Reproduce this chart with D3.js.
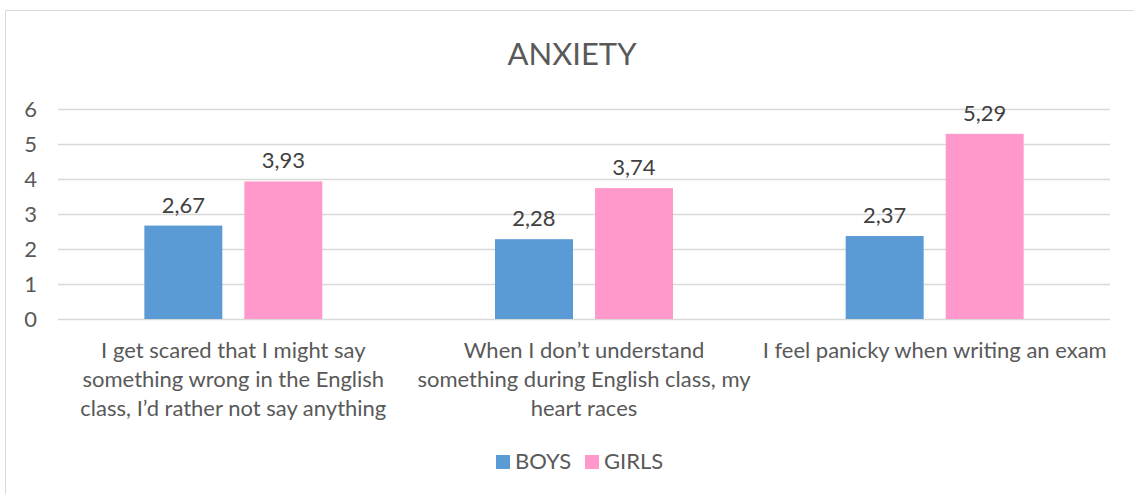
<!DOCTYPE html>
<html>
<head>
<meta charset="utf-8">
<script src="https://cdn.jsdelivr.net/npm/d3@7"></script>
<style>
  body { margin: 0; background: #fff; }
  svg { display: block; font-family: Lato, "Open Sans", sans-serif; }
</style>
</head>
<body>
<svg id="chart" width="1134" height="494"></svg>
<script>
var categories = [
  ["I get scared that I might say", "something wrong in the English", "class, I\u2019d rather not say anything"],
  ["When I don\u2019t understand", "something during English class, my", "heart races"],
  ["I feel panicky when writing an exam"]
];
var seriesNames = ["BOYS", "GIRLS"];
var boys = [2.67, 2.28, 2.37];
var girls = [3.93, 3.74, 5.29];
var yTicks = [0, 1, 2, 3, 4, 5, 6];
var colors = ["#5b9bd5", "#ff99cc"];

var svg = d3.select('#chart');

// chart frame (cropped on right / bottom)
svg.append('path')
  .attr('d', 'M5.5,494 V10.5 H1134')
  .attr('fill', 'none')
  .attr('stroke', '#d9d9d9');

svg.append('text')
  .attr('x', 572)
  .attr('y', 65)
  .attr('text-anchor', 'middle')
  .attr('fill', '#595959')
  .attr('font-size', 31)
  .text('ANXIETY');

var x0 = d3.scaleBand()
  .domain(d3.range(categories.length))
  .range([58, 1110]);

// 78px bars with a 22px gap, centred in each band
var x1 = d3.scaleBand()
  .domain(seriesNames)
  .range([x0.bandwidth() / 2 - 89, x0.bandwidth() / 2 + 89])
  .paddingInner(0.22);

var y = d3.scaleLinear().domain([0, 6]).range([319, 109]);

var grid = svg.append('g');
grid.selectAll('line').data(yTicks).enter().append('line')
  .attr('x1', 58).attr('x2', 1110)
  .attr('y1', function(d) { return Math.round(y(d)) + 0.5; })
  .attr('y2', function(d) { return Math.round(y(d)) + 0.5; })
  .attr('stroke', '#d9d9d9')
  .attr('stroke-width', 1.3);

var yAxis = d3.axisLeft(y).tickValues(yTicks).tickFormat(d3.format('d')).tickSize(0).tickPadding(0);
var yg = svg.append('g').attr('transform', 'translate(37,0)').call(yAxis);
yg.select('.domain').remove();
yg.selectAll('text')
  .attr('font-size', 22)
  .attr('fill', '#595959')
  .attr('font-family', 'Lato, "Open Sans", sans-serif');

var rows = categories.map(function(c, i) {
  return seriesNames.map(function(s, j) {
    return { cat: i, series: s, value: j === 0 ? boys[i] : girls[i], color: colors[j] };
  });
});

var groups = svg.selectAll('.cat').data(rows).enter().append('g')
  .attr('class', 'cat')
  .attr('transform', function(d, i) { return 'translate(' + x0(i) + ',0)'; });

groups.selectAll('rect').data(function(d) { return d; }).enter().append('rect')
  .attr('x', function(d) { return x1(d.series); })
  .attr('width', x1.bandwidth())
  .attr('y', function(d) { return y(d.value); })
  .attr('height', function(d) { return y(0) - y(d.value); })
  .attr('fill', function(d) { return d.color; });

groups.selectAll('.val').data(function(d) { return d; }).enter().append('text')
  .attr('class', 'val')
  .attr('x', function(d) { return x1(d.series) + x1.bandwidth() / 2; })
  .attr('y', function(d) { return y(d.value) - 13; })
  .attr('text-anchor', 'middle')
  .attr('font-size', 22)
  .attr('fill', '#404040')
  .text(function(d) { return d.value.toFixed(2).replace('.', ','); });

var labels = svg.selectAll('.catlabel').data(categories).enter().append('text')
  .attr('class', 'catlabel')
  .attr('text-anchor', 'middle')
  .attr('font-size', 22)
  .attr('fill', '#595959');
labels.selectAll('tspan').data(function(d, i) { return d.map(function(l) { return { l: l, i: i }; }); })
  .enter().append('tspan')
  .attr('x', function(d) { return x0(d.i) + x0.bandwidth() / 2; })
  .attr('y', function(d, k) { return 358 + k * 29; })
  .text(function(d) { return d.l; });

var legend = svg.append('g');
var legX = [496, 585];
seriesNames.forEach(function(name, j) {
  legend.append('rect')
    .attr('x', legX[j]).attr('y', 455)
    .attr('width', 14).attr('height', 14)
    .attr('fill', colors[j]);
  legend.append('text')
    .attr('x', legX[j] + 19).attr('y', 469)
    .attr('font-size', 22)
    .attr('fill', '#595959')
    .text(name);
});
</script>
</body>
</html>
